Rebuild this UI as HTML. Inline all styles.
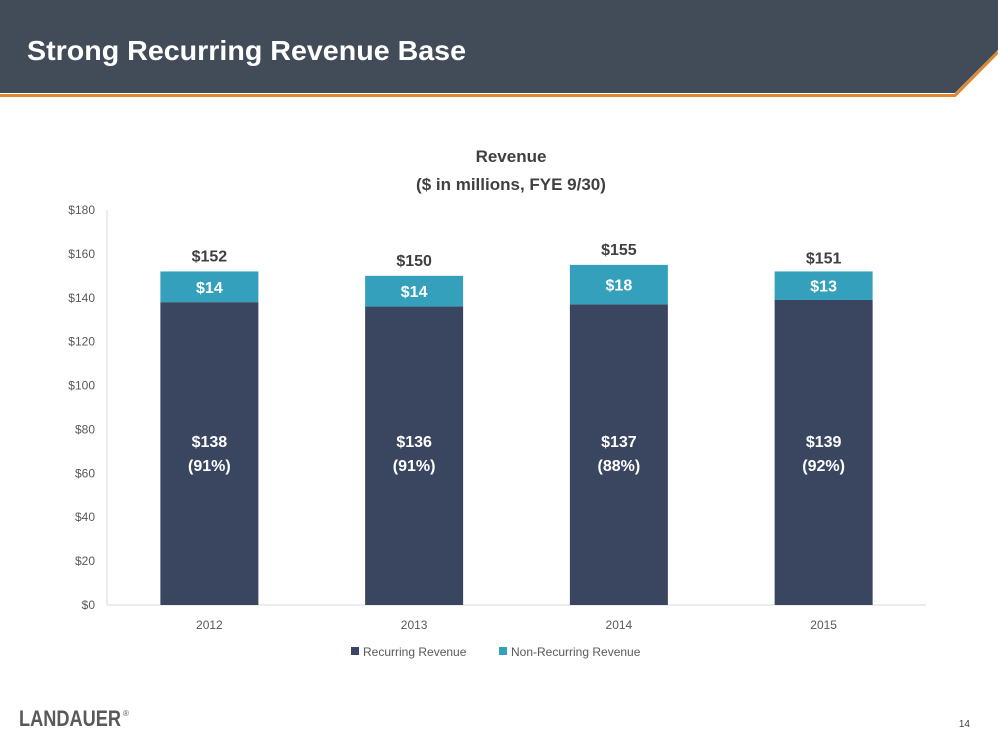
<!DOCTYPE html>
<html><head><meta charset="utf-8"><style>
body{margin:0;width:998px;height:739px;overflow:hidden;background:#fff;font-family:"Liberation Sans",sans-serif;}
</style></head><body>
<svg width="998" height="739" xmlns="http://www.w3.org/2000/svg">
<polygon points="0,0 998,0 998,50 955,93 0,93" fill="#414C58"/>
<polyline points="0,95.5 955,95.5 998,52" fill="none" stroke="#E0882D" stroke-width="3"/>
<text x="27" y="60" font-size="28" font-weight="bold" fill="#fff" textLength="439" lengthAdjust="spacingAndGlyphs">Strong Recurring Revenue Base</text>
<text x="511" y="162" font-size="17" font-weight="bold" fill="#404040" text-anchor="middle">Revenue</text>
<text x="511" y="190" font-size="17" font-weight="bold" fill="#404040" text-anchor="middle">($ in millions,  FYE 9/30)</text>
<g id="chart"></g>
<rect x="351" y="647" width="8" height="8" fill="#3A4560"/>
<text x="363" y="656" font-size="12" fill="#595959">Recurring Revenue</text>
<rect x="499" y="647" width="8" height="8" fill="#34A0BC"/>
<text x="511" y="656" font-size="12" fill="#595959">Non-Recurring Revenue</text>
<text x="19" y="726" font-size="22" font-weight="bold" fill="#58595B" textLength="102" lengthAdjust="spacingAndGlyphs">LANDAUER</text>
<text x="123" y="716" font-size="8" fill="#58595B">®</text>
<text x="970" y="727" font-size="10" fill="#404040" text-anchor="end">14</text>
</svg>
<script>
const years=["2012","2013","2014","2015"];
const recurring=[138,136,137,139];
const nonRecurring=[14,14,18,13];
const totals=[152,150,155,151];
const pcts=["91%","91%","88%","92%"];
const yTicks=[0,20,40,60,80,100,120,140,160,180];
const NS="http://www.w3.org/2000/svg";
const g=document.getElementById('chart');
const x0=107,x1=926,yB=605,yT=210,yMax=180;
const y=v=>yB-(v/yMax)*(yB-yT);
const bw=(x1-x0)/years.length;
const cx=i=>x0+bw*(i+0.5);
function mk(t,a,txt){const e=document.createElementNS(NS,t);for(const k in a)e.setAttribute(k,a[k]);if(txt!==undefined)e.textContent=txt;g.appendChild(e);return e;}
let ax=mk('line',{x1:x0,y1:yT,x2:x0,y2:yB,stroke:'#D9D9D9'});


let bx=mk('line',{x1:x0,y1:yB,x2:x1,y2:yB,stroke:'#D9D9D9'});


yTicks.forEach(v=>{
 const t=mk('text',{x:x0-12,y:y(v)+4,'font-size':12,fill:'#595959','text-anchor':'end'},'$'+v);
 
 
});
years.forEach((yr,i)=>{
 const w=98,l=cx(i)-w/2;
 const r=mk('rect',{x:l,y:y(recurring[i]),width:w,height:yB-y(recurring[i]),fill:'#3A4560'});
 
 
 const top=recurring[i]+nonRecurring[i];
 const n=mk('rect',{x:l,y:y(top),width:w,height:y(recurring[i])-y(top),fill:'#34A0BC'});
 
 
 const nl=mk('text',{x:cx(i),y:(y(top)+y(recurring[i]))/2+6,'font-size':16,'font-weight':'bold',fill:'#fff','text-anchor':'middle'},'$'+nonRecurring[i]);
 
 
 const rl=mk('text',{x:cx(i),y:447,'font-size':16,'font-weight':'bold',fill:'#fff','text-anchor':'middle'},'$'+recurring[i]);
 
 
 const pl=mk('text',{x:cx(i),y:471,'font-size':16,'font-weight':'bold',fill:'#fff','text-anchor':'middle'},'('+pcts[i]+')');
 
 
 const tl=mk('text',{x:cx(i),y:y(totals[i])-10,'font-size':16,'font-weight':'bold',fill:'#404040','text-anchor':'middle'},'$'+totals[i]);
 
 
 const xl=mk('text',{x:cx(i),y:629,'font-size':12,fill:'#595959','text-anchor':'middle'},yr);
 
 
});
</script>
</body></html>
